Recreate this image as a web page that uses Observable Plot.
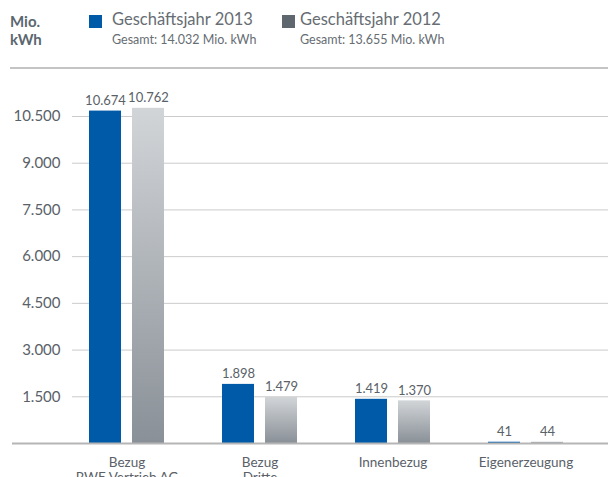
<!DOCTYPE html>
<html>
<head>
<meta charset="utf-8">
<script src="https://cdn.jsdelivr.net/npm/d3@7"></script>
<script src="https://cdn.jsdelivr.net/npm/@observablehq/plot@0.6"></script>
<style>
  html, body { margin: 0; padding: 0; background: #fff; overflow: hidden; }
  body { width: 608px; height: 477px; font-family: Lato, "Noto Sans", sans-serif; }
  #header { position: relative; height: 70px; }
  .unit { position: absolute; left: 10px; top: 12px; font-weight: bold; font-size: 15px; line-height: 18px; color: #5b6770; }
  .sq { position: absolute; width: 13px; height: 13px; top: 15px; }
  .ttl { position: absolute; top: 9px; font-size: 16.5px; color: #666d73; white-space: nowrap; }
  .sub { position: absolute; top: 32px; font-size: 12.5px; color: #666d73; white-space: nowrap; }
  .rule { position: absolute; left: 10px; right: 0; top: 67px; height: 1.5px; background: #c4c4c4; }
  #chart svg { display: block; }
</style>
</head>
<body>
<div id="header"></div>
<div id="chart"></div>
<script>
// ---- data ----
const categories = ["Bezug\nRWE Vertrieb AG", "Bezug\nDritte", "Innenbezug", "Eigenerzeugung"];
const values2013 = [10674, 1898, 1419, 41];
const values2012 = [10762, 1479, 1370, 44];
const seriesNames = ["Geschäftsjahr 2013", "Geschäftsjahr 2012"];
const seriesTotals = [14032, 13655];
const yTicks = [1500, 3000, 4500, 6000, 7500, 9000, 10500];
const unitLabel = ["Mio.", "kWh"];

const colors = ["#005aa8", "#5f676e"];

const de = d3.formatLocale({decimal: ",", thousands: ".", grouping: [3], currency: ["", " €"]});
const fmt = de.format(",d");

// ---- header (legend) ----
const header = document.getElementById("header");
header.innerHTML = `
  <div class="unit">${unitLabel[0]}<br>${unitLabel[1]}</div>
  <div class="sq" style="left:89px;background:${colors[0]}"></div>
  <div class="ttl" style="left:112px">${seriesNames[0]}</div>
  <div class="sub" style="left:112px">Gesamt: ${fmt(seriesTotals[0])} Mio. kWh</div>
  <div class="sq" style="left:282px;background:${colors[1]}"></div>
  <div class="ttl" style="left:300px">${seriesNames[1]}</div>
  <div class="sub" style="left:300px">Gesamt: ${fmt(seriesTotals[1])} Mio. kWh</div>
  <div class="rule"></div>`;

const data2013 = categories.map((c, i) => ({category: c, value: values2013[i]}));
const data2012 = categories.map((c, i) => ({category: c, value: values2012[i]}));

const defs = () => {
  const d = d3.create("svg:defs");
  const g = d.append("linearGradient").attr("id", "g2012")
    .attr("x1", 0).attr("y1", 0).attr("x2", 0).attr("y2", 1);
  g.append("stop").attr("offset", "0%").attr("stop-color", "#d2d5d8");
  g.append("stop").attr("offset", "100%").attr("stop-color", "#899097");
  return d.node();
};

const chart = Plot.plot({
  width: 608,
  height: 433,
  marginLeft: 12,
  marginRight: 0,
  marginTop: 46,
  marginBottom: 60,
  style: {fontFamily: "Lato, 'Noto Sans', sans-serif", background: "#fff"},
  x: {domain: categories, range: [59.5, 592.5], padding: 0, axis: null, label: null},
  y: {domain: [0, 10500], axis: null, label: null},
  marks: [
    defs,
    Plot.ruleY(yTicks, {stroke: "#cbcbcb", strokeWidth: 1, insetLeft: 60}),
    Plot.barY(data2013, {x: "category", y: "value", fill: colors[0], insetLeft: 29, insetRight: 72}),
    Plot.barY(data2012, {x: "category", y: "value", fill: "url(#g2012)", insetLeft: 72, insetRight: 29}),
    Plot.ruleY([0], {stroke: "#b5b5b5", strokeWidth: 2}),
    Plot.text(data2013, {x: "category", y: "value", text: d => fmt(d.value), dx: -21.5, dy: -6, lineAnchor: "bottom", fontSize: 13, fill: "#5a6168"}),
    Plot.text(data2012, {x: "category", y: "value", text: d => fmt(d.value), dx: 21.5, dy: -6, lineAnchor: "bottom", fontSize: 13, fill: "#5a6168"}),
    Plot.axisY(yTicks, {anchor: "left", label: null, tickSize: 0, tickPadding: 3, dx: 51, fontSize: 15, fill: "#5a6168", tickFormat: fmt}),
    Plot.axisX({anchor: "bottom", label: null, tickSize: 0, tickPadding: 12, fontSize: 13.5, lineHeight: 1.15, fill: "#5a6168"})
  ]
});
document.getElementById("chart").appendChild(chart);
</script>
</body>
</html>
